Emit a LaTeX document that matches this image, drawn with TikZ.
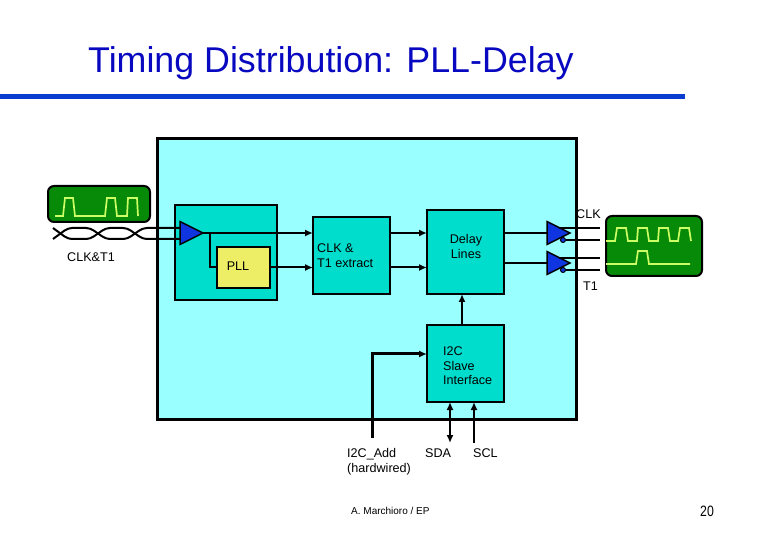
\documentclass[tikz,border=0pt]{standalone}
\usepackage{fontspec}
\setmainfont{Liberation Sans}
\usepackage{xcolor}
\usetikzlibrary{arrows.meta, shapes.geometric}

\definecolor{skyfill}{HTML}{99FFFF}
\definecolor{tealfill}{HTML}{00DDCC}
\definecolor{pllfill}{HTML}{EEEE66}
\definecolor{bufblue}{HTML}{0F35E0}
\definecolor{rulecol}{HTML}{0A3CD0}
\definecolor{titlecol}{HTML}{0808C0}
\definecolor{scopegreen}{HTML}{078A07}
\definecolor{tracecol}{HTML}{CCFF66}

\begin{document}
\begin{tikzpicture}[
    x=1pt, y=-1pt, % reference pixels
    box/.style={draw, line width=2pt, fill=tealfill, rectangle, inner sep=0pt, outer sep=0pt, anchor=north west},
    label/.style={font=\fontsize{12.6}{14.6}\selectfont, align=left, inner sep=0pt},
    scopebox/.style={draw, line width=2pt, fill=scopegreen, rectangle, rounded corners=6pt, inner sep=0pt, outer sep=0pt, anchor=north west},
    buffer/.style={draw, line width=1.5pt, fill=bufblue, isosceles triangle, isosceles triangle stretches, shape border rotate=0, minimum width=23pt, minimum height=23pt, inner sep=0pt, outer sep=0pt, anchor=apex},
    bubble/.style={draw, line width=1pt, fill=bufblue, circle, minimum size=5pt, inner sep=0pt},
    edge/.style={-{Latex[length=8pt,width=7pt]}, line width=2pt},
    wire/.style={line width=2pt},
    trace/.style={line width=1.7pt, color=tracecol}
]
\useasboundingbox (0,0) rectangle (780,540);

% Title
\node[font=\fontsize{35.8}{40}\selectfont, text=titlecol, anchor=west, inner sep=0pt] (title) at (88,63) {Timing Distribution: PLL-Delay};
\coordinate (ruleL) at (0,96.5);
\coordinate (ruleR) at (685,96.5);
\draw[line width=5pt, rulecol] (ruleL) -- (ruleR);

% Boxes
\node[box, fill=skyfill, line width=3pt, minimum width=419pt, minimum height=280pt] (chip) at (157,139) {};
\node[box, minimum width=102pt, minimum height=95pt] (input) at (175,205) {};
\node[box, fill=pllfill, minimum width=53pt, minimum height=41pt] (pll) at (217,247) {};
\node[box, minimum width=77pt, minimum height=77pt] (extract) at (313,217) {};
\node[box, minimum width=77pt, minimum height=84pt] (delay) at (427,210) {};
\node[box, minimum width=77pt, minimum height=77pt] (i2c) at (427,325) {};

% Scopes
\node[scopebox, minimum width=102pt, minimum height=36pt] (scopein) at (48,186) {};
\node[scopebox, minimum width=96pt, minimum height=60pt] (scopeout) at (606,216) {};
\draw[trace] (55,216) -- (63,216) -- (65,198) -- (73,198) -- (75,216) -- (105,216) -- (107,198) -- (115,198) -- (117,216) -- (127,216) -- (128,198) -- (137,198) -- (138,216);
\draw[trace] (606,241) -- (615,241) -- (617,228) -- (626,228) -- (628,241) -- (637,241) -- (638,228) -- (647,228) -- (649,241) -- (658,241) -- (659,228) -- (668,228) -- (670,241) -- (678,241) -- (680,228) -- (689,228) -- (691,241);
\draw[trace] (606,264) -- (636,264) -- (638,251) -- (647,251) -- (649,264) -- (690,264);

% Buffers
\node[buffer] (rx) at (203,233) {};
\node[buffer] (txclk) at (570,233) {};
\node[buffer] (txt) at (570,263) {};
\node[bubble] (bubclk) at (563,240) {};
\node[bubble] (bubt) at (563,270) {};

% Twisted pair
\coordinate (pairA) at (53,228);
\coordinate (pairB) at (53,239);
\draw[wire, rounded corners=4pt] (pairA) -- (68,239) -- (90,239) -- (106,228) -- (127,228) -- (143,239) -- (rx.west |- pairB);
\draw[wire, rounded corners=4pt] (pairB) -- (68,228) -- (90,228) -- (106,239) -- (127,239) -- (143,228) -- (rx.west |- pairA);

% Edges
\coordinate (tap) at (210,233);
\draw[wire] (rx.apex) -- (tap);
\draw[wire] (tap) |- (pll.west);
\draw[edge] (tap) -- (extract.west |- tap);
\draw[edge] (pll.east) -- (extract.west |- pll.east);
\draw[edge] (extract.east |- tap) -- (delay.west |- tap);
\draw[edge] (extract.east |- pll.east) -- (delay.west |- pll.east);
\draw[wire] (delay.east |- tap) -- (txclk.west);
\draw[wire] (delay.east |- txt.west) -- (txt.west);
\draw[edge] (i2c.north -| 462,0) -- (delay.south -| 462,0);

% Outputs
\coordinate (clkhi) at (559,228);
\coordinate (thi) at (559,258);
\coordinate (outend) at (600,0);
\draw[wire] (clkhi) -- (clkhi -| outend);
\draw[wire] (bubclk) -- (bubclk -| outend);
\draw[wire] (thi) -- (thi -| outend);
\draw[wire] (bubt) -- (bubt -| outend);

% I2C lines
\coordinate (addend) at (372,438);
\coordinate (sdaend) at (450,443);
\coordinate (sclend) at (474,443);
\draw[-{Latex[length=8pt,width=7pt]}, line width=3pt] (addend) |- (i2c.west |- 0,354);
\draw[{Latex[length=8pt,width=7pt]}-{Latex[length=8pt,width=7pt]}, line width=2pt] (sdaend) -- (i2c.south -| sdaend);
\draw[edge] (sclend) -- (i2c.south -| sclend);

% Labels
\node[label, anchor=west] (lclkt) at (67,257) {CLK\&T1};
\node[label, anchor=center] (lpll) at (238,266) {PLL};
\node[label, anchor=north west] (lextract) at (317,243.5) {CLK \&\\T1 extract};
\node[label, anchor=north, align=center] (ldelay) at (466,234.5) {Delay\\Lines};
\node[label, anchor=north west] (li2c) at (443,346.5) {I2C\\Slave\\Interface};
\node[label, anchor=west] (lclk) at (576,214) {CLK};
\node[label, anchor=west] (lt1) at (583,286) {T1};
\node[label, anchor=north west] (ladd) at (347,448.5) {I2C\_Add\\(hardwired)};
\node[label, anchor=west] (lsda) at (425,453) {SDA};
\node[label, anchor=west] (lscl) at (473,453) {SCL};
\node[label, font=\fontsize{10}{12}\selectfont, anchor=west] (lauthor) at (351,511) {A. Marchioro / EP};
\node[label, font=\addfontfeatures{FakeStretch=0.82}\fontsize{15}{16}\selectfont, anchor=west] (lpage) at (700,511) {20};
\end{tikzpicture}
\end{document}
